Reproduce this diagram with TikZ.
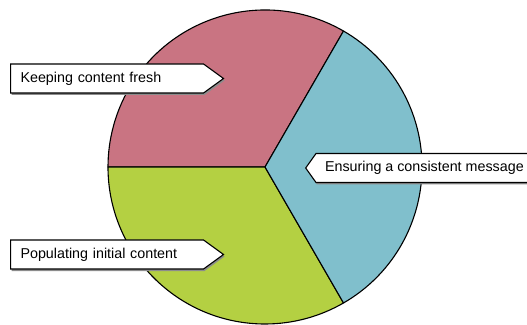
\documentclass[tikz,border=0pt]{standalone}
\usepackage{fontspec}
\setmainfont{Liberation Sans}
\usetikzlibrary{shapes.symbols,shadows}

\definecolor{freshred}{RGB}{201,116,130}
\definecolor{messageblue}{RGB}{128,191,204}
\definecolor{initgreen}{RGB}{180,208,66}

\tikzset{
  slice/.style={draw=black, line width=1.1pt, line join=round},
  callout/.style={shape=signal, draw=black, line width=1.1pt, fill=white,
    font=\fontsize{14.3}{16}\selectfont, minimum height=29pt,
    signal pointer angle=72,
    drop shadow={shadow xshift=1pt, shadow yshift=-2pt, fill=black!45, opacity=1}},
}

\begin{document}
\begin{tikzpicture}[x=1pt,y=1pt]
  \useasboundingbox (0,0) rectangle (527,324);
  \coordinate (c) at (265,157);

  % the three slices
  \filldraw[slice, fill=freshred] (c) -- ++(60:157pt) arc[start angle=60, end angle=180, radius=157pt] -- cycle;
  \filldraw[slice, fill=initgreen] (c) -- ++(180:157pt) arc[start angle=180, end angle=300, radius=157pt] -- cycle;
  \filldraw[slice, fill=messageblue] (c) -- ++(300:157pt) arc[start angle=300, end angle=420, radius=157pt] -- cycle;

  % labels
  \node[callout, signal to=east, text width=173pt, align=left, inner xsep=10pt, anchor=west]
    (fresh) at (10,245.5) {Keeping content fresh};
  \node[callout, signal to=west, signal pointer angle=109, inner xsep=9pt, anchor=west]
    (message) at (305,156) {Ensuring a consistent message\hspace{10pt}};
  \node[callout, signal to=east, text width=173pt, align=left, inner xsep=10pt, anchor=west]
    (initial) at (10,69.5) {Populating initial content};
\end{tikzpicture}
\end{document}
